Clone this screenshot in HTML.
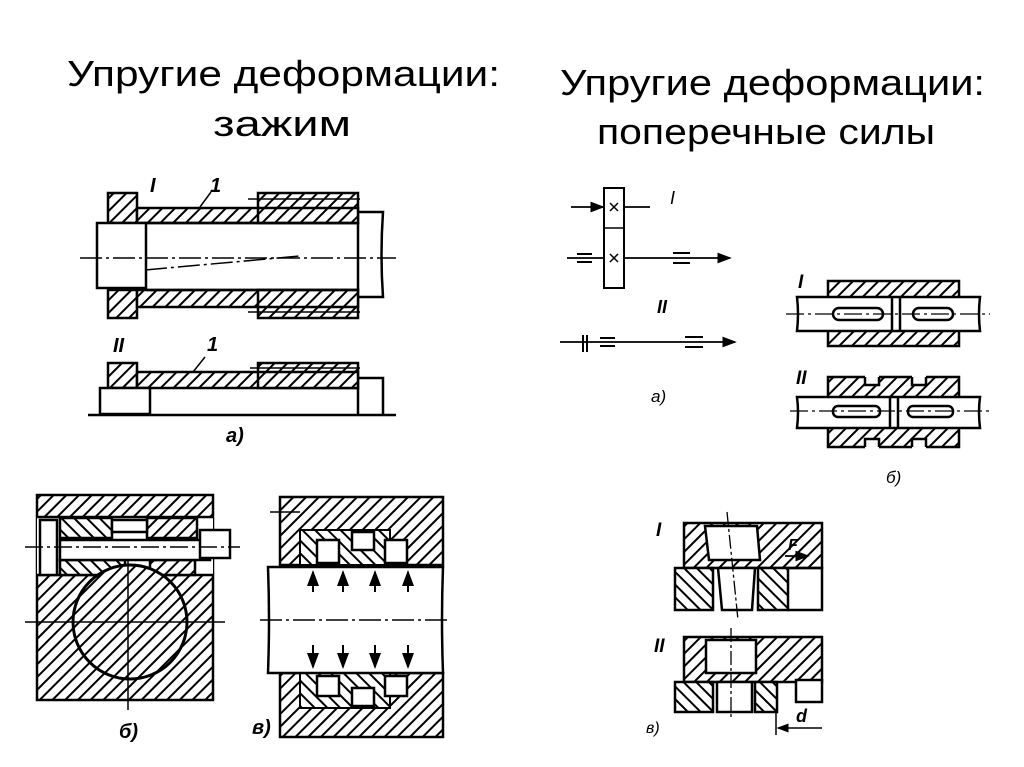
<!DOCTYPE html>
<html><head><meta charset="utf-8">
<style>
html,body{margin:0;padding:0;background:#fff;}
svg{display:block;}
text{font-family:"Liberation Sans","DejaVu Sans",sans-serif;}
</style></head>
<body>
<svg width="1024" height="767" viewBox="0 0 1024 767" xmlns="http://www.w3.org/2000/svg">
<defs>
<pattern id="h" patternUnits="userSpaceOnUse" width="9" height="9" patternTransform="rotate(45)">
<rect width="9" height="9" fill="#fff"/><line x1="0" y1="0" x2="0" y2="9" stroke="#000" stroke-width="4"/>
</pattern>
<pattern id="h2" patternUnits="userSpaceOnUse" width="9" height="9" patternTransform="rotate(-45)">
<rect width="9" height="9" fill="#fff"/><line x1="0" y1="0" x2="0" y2="9" stroke="#000" stroke-width="4"/>
</pattern>
<marker id="ar" markerWidth="8" markerHeight="6" refX="7" refY="3" orient="auto"><path d="M0,0 L8,3 L0,6z" fill="#000"/></marker>
</defs>

<text x="67" y="86" font-size="36" textLength="433" lengthAdjust="spacingAndGlyphs">Упругие деформации:</text>
<text x="213" y="136" font-size="36" textLength="138" lengthAdjust="spacingAndGlyphs">зажим</text>
<text x="560" y="95" font-size="36" textLength="425" lengthAdjust="spacingAndGlyphs">Упругие деформации:</text>
<text x="597" y="144" font-size="36" textLength="338" lengthAdjust="spacingAndGlyphs">поперечные силы</text>

<g stroke="#000" stroke-width="2.5" fill="none">
<rect x="108" y="193" width="29" height="30" fill="url(#h)"/>
<rect x="108" y="290" width="29" height="28" fill="url(#h)"/>
<rect x="137" y="208" width="221" height="15" fill="url(#h)"/>
<rect x="137" y="290" width="221" height="17" fill="url(#h)"/>
<rect x="258" y="193" width="100" height="30" fill="url(#h)"/>
<rect x="258" y="290" width="100" height="28" fill="url(#h)"/>
<line x1="258" y1="208" x2="358" y2="208"/>
<line x1="258" y1="307" x2="358" y2="307"/>
<rect x="97" y="223" width="49" height="65" fill="#fff"/>
<line x1="146" y1="223" x2="358" y2="223"/>
<line x1="146" y1="290" x2="358" y2="290"/>
<line x1="358" y1="223" x2="358" y2="290"/>
<path d="M358 212 H383 Q380 255 383 297 H358"/>
<line x1="80" y1="258" x2="396" y2="258" stroke-width="1.5" stroke-dasharray="22 4 3 4"/>
<line x1="145" y1="270" x2="300" y2="256" stroke-width="1.5" stroke-dasharray="22 4 3 4"/>
<line x1="248" y1="199" x2="360" y2="199" stroke-width="1.5"/>
<line x1="248" y1="312" x2="360" y2="312" stroke-width="1.5"/>
<line x1="200" y1="207" x2="211" y2="192" stroke-width="1.5"/>

<rect x="108" y="363" width="29" height="25" fill="url(#h)"/>
<rect x="137" y="372" width="221" height="16" fill="url(#h)"/>
<rect x="258" y="363" width="100" height="25" fill="url(#h)"/>
<line x1="258" y1="372" x2="358" y2="372"/>
<rect x="100" y="388" width="50" height="26" fill="#fff"/>
<line x1="358" y1="388" x2="358" y2="414"/>
<path d="M358 378 H383 V414"/>
<line x1="88" y1="415" x2="396" y2="415"/>
<line x1="250" y1="368" x2="360" y2="368" stroke-width="1.5"/>
<line x1="193" y1="372" x2="205" y2="357" stroke-width="1.5"/>

<rect x="37" y="495" width="176" height="205" fill="url(#h)"/>
<rect x="37" y="517" width="176" height="58" fill="#fff" stroke="none"/>
<line x1="37" y1="517" x2="213" y2="517"/>
<line x1="37" y1="575" x2="213" y2="575"/>
<rect x="40" y="520" width="17" height="55" fill="#fff"/>
<rect x="60" y="518" width="52" height="20" fill="url(#h2)"/>
<rect x="147" y="518" width="50" height="20" fill="url(#h)"/>
<rect x="112" y="520" width="35" height="12" fill="#fff"/>
<rect x="60" y="560" width="65" height="15" fill="url(#h2)"/>
<rect x="150" y="560" width="45" height="15" fill="url(#h)"/>
<rect x="60" y="540" width="150" height="20" fill="#fff"/>
<rect x="200" y="530" width="30" height="28" fill="#fff"/>
<circle cx="130" cy="622" r="57" fill="url(#h)" stroke-width="3"/>
<line x1="25" y1="547" x2="240" y2="547" stroke-width="1.5" stroke-dasharray="18 4 3 4"/>
<line x1="25" y1="622" x2="225" y2="622" stroke-width="1.5"/>
<line x1="128" y1="560" x2="128" y2="710" stroke-width="1.5"/>

<path d="M280 497 H443 V565 H280 Z" fill="url(#h)"/>
<rect x="300" y="530" width="90" height="35" fill="url(#h2)" stroke-width="2"/>
<rect x="317" y="540" width="22" height="23" fill="#fff"/>
<rect x="352" y="532" width="22" height="18" fill="#fff"/>
<rect x="385" y="540" width="22" height="23" fill="#fff"/>
<path d="M280 673 H443 V737 H280 Z" fill="url(#h)"/>
<rect x="300" y="673" width="90" height="35" fill="url(#h2)" stroke-width="2"/>
<rect x="317" y="676" width="22" height="20" fill="#fff"/>
<rect x="352" y="688" width="22" height="18" fill="#fff"/>
<rect x="385" y="676" width="22" height="20" fill="#fff"/>
<path d="M268 567 H443 Q441 620 443 673 H268 Q270 620 268 567 Z" fill="#fff"/>
<line x1="260" y1="620" x2="450" y2="620" stroke-width="1.5" stroke-dasharray="22 4 3 4"/>
<line x1="270" y1="512" x2="300" y2="512" stroke-width="1.5"/>
<g stroke-width="2">
<line x1="313" y1="592" x2="313" y2="572" marker-end="url(#ar)"/>
<line x1="343" y1="592" x2="343" y2="572" marker-end="url(#ar)"/>
<line x1="375" y1="592" x2="375" y2="572" marker-end="url(#ar)"/>
<line x1="408" y1="592" x2="408" y2="572" marker-end="url(#ar)"/>
<line x1="313" y1="645" x2="313" y2="667" marker-end="url(#ar)"/>
<line x1="343" y1="645" x2="343" y2="667" marker-end="url(#ar)"/>
<line x1="375" y1="645" x2="375" y2="667" marker-end="url(#ar)"/>
<line x1="408" y1="645" x2="408" y2="667" marker-end="url(#ar)"/>
</g>

<rect x="604" y="188" width="20" height="100" fill="#fff" stroke-width="2"/>
<line x1="604" y1="228" x2="624" y2="228" stroke-width="1.5"/>
<path d="M610 203 L618 211 M618 203 L610 211 M610 254 L618 262 M618 254 L610 262" stroke-width="1.5"/>
<line x1="571" y1="207" x2="603" y2="207" stroke-width="1.8" marker-end="url(#ar)"/>
<line x1="625" y1="207" x2="650" y2="207" stroke-width="1.8"/>
<line x1="567" y1="258" x2="604" y2="258" stroke-width="1.8"/>
<line x1="624" y1="258" x2="730" y2="258" stroke-width="1.8" marker-end="url(#ar)"/>
<path d="M577 254 H592 M577 262 H592 M673 253 H690 M673 263 H690" stroke-width="2"/>
<line x1="560" y1="342" x2="735" y2="342" stroke-width="1.8" marker-end="url(#ar)"/>
<path d="M583 335 V352 M587 335 V352 M600 338 H615 M600 346 H615 M685 337 H703 M685 347 H703" stroke-width="2"/>

<rect x="828" y="281" width="131" height="65" fill="url(#h)"/>
<path d="M797 297 H980 Q978 314 980 331 H797 Q799 314 797 297 Z" fill="#fff"/>
<line x1="892" y1="297" x2="892" y2="331"/><line x1="900" y1="297" x2="900" y2="331"/>
<rect x="833" y="308" width="50" height="12" rx="6"/>
<rect x="913" y="308" width="40" height="12" rx="6"/>
<line x1="786" y1="314" x2="990" y2="314" stroke-width="1.3" stroke-dasharray="18 4 3 4"/>

<rect x="828" y="377" width="131" height="70" fill="url(#h)"/>
<rect x="865" y="375" width="14" height="10" fill="#fff" stroke="none"/>
<rect x="912" y="375" width="14" height="10" fill="#fff" stroke="none"/>
<rect x="865" y="439" width="14" height="10" fill="#fff" stroke="none"/>
<rect x="912" y="439" width="14" height="10" fill="#fff" stroke="none"/>
<path d="M865 377 V385 H879 V377 M912 377 V385 H926 V377 M865 447 V439 H879 V447 M912 447 V439 H926 V447"/>
<path d="M797 397 H980 Q978 412 980 428 H797 Q799 412 797 397 Z" fill="#fff"/>
<line x1="890" y1="397" x2="890" y2="428"/><line x1="898" y1="397" x2="898" y2="428"/>
<rect x="833" y="406" width="47" height="11" rx="5"/>
<rect x="908" y="406" width="45" height="11" rx="5"/>
<line x1="790" y1="411" x2="990" y2="411" stroke-width="1.3" stroke-dasharray="18 4 3 4"/>

<rect x="684" y="523" width="138" height="45" fill="url(#h)"/>
<path d="M705 526 H757 L760 560 H709 Z" fill="#fff"/>
<rect x="675" y="568" width="38" height="42" fill="url(#h2)"/>
<rect x="758" y="568" width="30" height="42" fill="url(#h2)"/>
<path d="M788 568 H822 V610 H788"/>
<path d="M718 568 H755 L752 610 H722 Z" fill="#fff"/>
<line x1="727" y1="512" x2="738" y2="620" stroke-width="1.3" stroke-dasharray="14 3 3 3"/>
<line x1="785" y1="556" x2="808" y2="556" stroke-width="1.8" marker-end="url(#ar)"/>

<rect x="684" y="637" width="138" height="45" fill="url(#h)"/>
<rect x="706" y="640" width="50" height="33" fill="#fff"/>
<rect x="675" y="682" width="38" height="30" fill="url(#h2)"/>
<rect x="755" y="682" width="22" height="30" fill="url(#h2)"/>
<path d="M717 682 H752 V712 H717 Z" fill="#fff"/>
<rect x="796" y="680" width="26" height="22" fill="#fff"/>
<line x1="731" y1="628" x2="731" y2="720" stroke-width="1.3" stroke-dasharray="14 3 3 3"/>
<line x1="776" y1="712" x2="776" y2="735" stroke-width="1.5"/>
<line x1="822" y1="728" x2="778" y2="728" stroke-width="1.5" marker-end="url(#ar)"/>
</g>

<g font-family="Liberation Serif,serif" font-style="italic" font-weight="bold" fill="#000">
<text x="150" y="192" font-size="20">I</text>
<text x="210" y="192" font-size="20">1</text>
<text x="113" y="352" font-size="20">II</text>
<text x="207" y="351" font-size="20">1</text>
<text x="226" y="442" font-size="20">а)</text>
<text x="119" y="738" font-size="20">б)</text>
<text x="252" y="734" font-size="20">в)</text>
<text x="670" y="204" font-size="18" font-weight="normal">I</text>
<text x="657" y="313" font-size="18">II</text>
<text x="651" y="402" font-size="17" font-weight="normal">а)</text>
<text x="798" y="288" font-size="19">I</text>
<text x="796" y="384" font-size="19">II</text>
<text x="886" y="483" font-size="17" font-weight="normal">б)</text>
<text x="656" y="536" font-size="19">I</text>
<text x="654" y="652" font-size="19">II</text>
<text x="646" y="733" font-size="16" font-weight="normal">в)</text>
<text x="796" y="722" font-size="18">d</text>
<text x="788" y="550" font-size="16">F</text>
</g>
</svg>
</body></html>
